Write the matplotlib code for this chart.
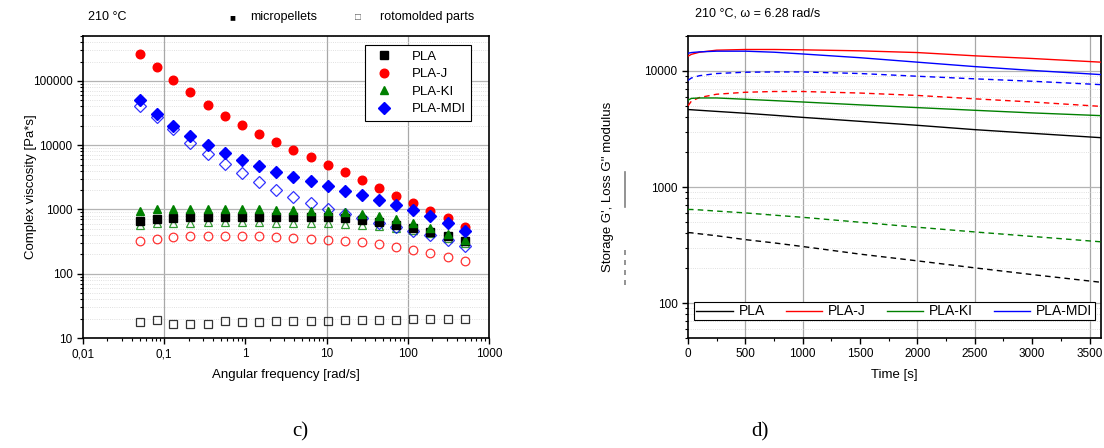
import numpy as np
import matplotlib
matplotlib.use("Agg")
import matplotlib.pyplot as plt
from matplotlib.lines import Line2D
from matplotlib.ticker import LogLocator, FixedLocator, NullFormatter, MultipleLocator, FuncFormatter

plt.rcParams['font.family'] = ['Liberation Sans', 'DejaVu Sans']

# ---------------- data: panel c ----------------
freq = [0.05, 0.081, 0.13, 0.21, 0.35, 0.56, 0.91, 1.48, 2.4, 3.9,
        6.4, 10.4, 16.9, 27.4, 44.5, 72.3, 117, 190, 309, 500]
pla_fill = [650, 700, 740, 750, 770, 770, 770, 770, 770, 770,
            760, 760, 730, 690, 640, 580, 520, 450, 390, 320]
plaj_fill = [261000, 165000, 103000, 67000, 42700, 28700, 20300, 14900, 11300, 8550,
             6570, 4990, 3790, 2840, 2180, 1640, 1270, 953, 733, 537]
plaki_fill = [950, 1000, 1010, 1020, 1020, 1020, 1010, 1000, 990, 980,
              960, 930, 900, 860, 790, 700, 620, 510, 410, 330]
plamdi_fill = [49900, 30500, 20000, 14000, 10000, 7590, 5900, 4760, 3830, 3160,
               2740, 2300, 1950, 1670, 1410, 1170, 965, 778, 606, 466]
pla_open = [17.5, 19, 16.6, 16.6, 16.6, 18.1, 17.7, 17.7, 18.1, 18.3,
            18.5, 18.5, 19, 19.2, 19, 19, 19.9, 19.7, 19.7, 19.9]
plaj_open = [322, 350, 371, 380, 390, 390, 385, 380, 371, 363,
             350, 333, 322, 307, 286, 260, 236, 212, 182, 157]
plaki_open = [580, 620, 620, 620, 630, 630, 630, 630, 620, 620,
              610, 610, 600, 570, 545, 515, 480, 425, 365, 300]
plamdi_open = [40600, 27000, 17600, 11000, 7330, 5050, 3650, 2670, 1980, 1570,
               1240, 1010, 857, 725, 621, 538, 466, 403, 330, 266]

# ---------------- data: panel d ----------------
time_s = [0, 30, 100, 250, 500, 750, 1000, 1500, 2000, 2500, 3000, 3600]
pla_Gp = [4650, 4630, 4580, 4480, 4320, 4150, 3980, 3680, 3400, 3120, 2900, 2660]
pla_Gpp = [405, 403, 395, 380, 352, 330, 307, 264, 231, 201, 176, 151]
plaj_Gp = [13400, 13900, 14500, 15100, 15300, 15300, 15200, 14900, 14400, 13500, 12800, 11900]
plaj_Gpp = [5000, 5500, 5900, 6300, 6550, 6650, 6650, 6450, 6150, 5750, 5400, 4950]
plaki_Gp = [5600, 5800, 5850, 5850, 5700, 5550, 5400, 5100, 4830, 4580, 4350, 4120]
plaki_Gpp = [640, 640, 635, 620, 598, 572, 548, 497, 450, 410, 375, 337]
plamdi_Gp = [14200, 14400, 14600, 14800, 14800, 14500, 14000, 13000, 11900, 10900, 10100, 9300]
plamdi_Gpp = [8300, 8700, 9100, 9500, 9750, 9800, 9800, 9500, 9000, 8550, 8150, 7620]

names = ['PLA', 'PLA-J', 'PLA-KI', 'PLA-MDI']
colors = ['black', '#ff0000', '#008000', '#0000ff']
markers = ['s', 'o', '^', 'D']

fig = plt.figure(figsize=(11.04, 4.48), dpi=100)
W, H = 1104, 448
plain = FuncFormatter(lambda v, p: '%d' % round(v))

def ax_rect(x0, y0, x1, y1):
    return [x0 / W, 1 - y1 / H, (x1 - x0) / W, (y1 - y0) / H]

# ---------------- panel c ----------------
ax1 = fig.add_axes(ax_rect(83, 36, 489, 338))
ax1.set_xscale('log')
ax1.set_yscale('log')
ax1.set_xlim(0.01, 1000)
ax1.set_ylim(10, 5e5)

fill_sets = [pla_fill, plaj_fill, plaki_fill, plamdi_fill]
open_sets = [pla_open, plaj_open, plaki_open, plamdi_open]
msz = [5.5, 6.2, 6.2, 6.0]
for i in range(4):
    ax1.plot(freq, open_sets[i], linestyle='none', marker=markers[i], ms=msz[i],
             mfc='none', mec=colors[i], mew=0.9, alpha=0.8, zorder=3)
handles = []
for i in range(4):
    h, = ax1.plot(freq, fill_sets[i], linestyle='none', marker=markers[i], ms=msz[i],
                  mfc=colors[i], mec=colors[i], zorder=4, label=names[i])
    handles.append(h)

ax1.yaxis.set_major_locator(FixedLocator([10, 100, 1000, 10000, 100000]))
ax1.yaxis.set_major_formatter(plain)
ax1.yaxis.set_minor_locator(LogLocator(base=10, subs=np.arange(2, 10), numticks=20))
ax1.yaxis.set_minor_formatter(NullFormatter())
ax1.xaxis.set_major_locator(FixedLocator([0.01, 0.1, 1, 10, 100, 1000]))
ax1.xaxis.set_minor_locator(LogLocator(base=10, subs=np.arange(2, 10), numticks=20))
ax1.xaxis.set_minor_formatter(NullFormatter())
ax1.set_xticklabels(['0,01', '0,1', '1', '10', '100', '1000'])
ax1.grid(True, axis='y', which='major', color='#b4b4b4', lw=0.9, zorder=0)
ax1.grid(True, axis='y', which='minor', color='#d6d6d6', lw=0.6, ls=':', zorder=0)
for xv in [0.1, 10, 100]:
    ax1.axvline(xv, color='#a8a8a8', lw=0.9, zorder=0)

ax1.tick_params(axis='both', which='major', direction='out', length=4, width=1, labelsize=8.5)
ax1.tick_params(axis='both', which='minor', direction='out', length=2.5, width=0.8)
for s in ax1.spines.values():
    s.set_linewidth(1.2)
ax1.set_xlabel('Angular frequency [rad/s]', fontsize=9.5, labelpad=6)
ax1.set_ylabel('Complex viscosity [Pa*s]', fontsize=9.5)
ax1.yaxis.set_label_coords((37 - 83) / 406, 0.5)

leg1 = ax1.legend(handles=handles, loc='upper right', fontsize=9.5, frameon=True,
                  fancybox=False, edgecolor='black', framealpha=1,
                  borderaxespad=0.6, handletextpad=1.1, labelspacing=0.4,
                  bbox_to_anchor=(0.975, 0.995))
leg1.get_frame().set_linewidth(0.8)

fig.text(88 / W, 1 - 17 / H, '210 \u00b0C', fontsize=9, va='center', ha='left')
fig.text(232 / W, 1 - 17 / H, '\u25a0', fontsize=7, va='center', ha='center')
fig.text(250 / W, 1 - 17 / H, 'micropellets', fontsize=9, va='center', ha='left')
fig.text(358 / W, 1 - 17 / H, '\u25a1', fontsize=7, va='center', ha='center', color='#555555')
fig.text(380 / W, 1 - 17 / H, 'rotomolded parts', fontsize=9, va='center', ha='left')

# ---------------- panel d ----------------
ax2 = fig.add_axes(ax_rect(688, 36, 1101, 338))
ax2.set_yscale('log')
ax2.set_xlim(0, 3600)
ax2.set_ylim(50, 20000)

Gp_sets = [pla_Gp, plaj_Gp, plaki_Gp, plamdi_Gp]
Gpp_sets = [pla_Gpp, plaj_Gpp, plaki_Gpp, plamdi_Gpp]
lhandles = []
for i in range(4):
    h, = ax2.plot(time_s, Gp_sets[i], color=colors[i], lw=1.0, label=names[i], zorder=3)
    lhandles.append(h)
    ax2.plot(time_s, Gpp_sets[i], color=colors[i], lw=1.0, ls=(0, (4, 3)), zorder=3)

ax2.xaxis.set_major_locator(MultipleLocator(500))
ax2.xaxis.set_minor_locator(MultipleLocator(250))
ax2.yaxis.set_major_locator(FixedLocator([100, 1000, 10000]))
ax2.yaxis.set_major_formatter(plain)
ax2.yaxis.set_minor_locator(LogLocator(base=10, subs=np.arange(2, 10), numticks=20))
ax2.yaxis.set_minor_formatter(NullFormatter())
ax2.grid(True, axis='y', which='major', color='#b4b4b4', lw=0.9, zorder=0)
ax2.grid(True, axis='y', which='minor', color='#d6d6d6', lw=0.6, ls=':', zorder=0)
for xv in [500, 1000, 2000, 2500, 3500]:
    ax2.axvline(xv, color='#a8a8a8', lw=0.9, zorder=0)
ax2.tick_params(axis='both', which='major', direction='out', length=4, width=1, labelsize=8.5)
ax2.tick_params(axis='both', which='minor', direction='out', length=2.5, width=0.8)
for s in ax2.spines.values():
    s.set_linewidth(1.2)
ax2.set_xlabel('Time [s]', fontsize=9.5, labelpad=6)
ax2.set_ylabel('Storage G\', Loss G\'\' modulus', fontsize=9.5)
ax2.yaxis.set_label_coords((614 - 688) / 413, 0.5)

leg2 = ax2.legend(handles=lhandles, loc='lower center', ncol=4, fontsize=10,
                  frameon=True, fancybox=False, edgecolor='black', framealpha=1,
                  handlelength=2.6, handletextpad=0.45, columnspacing=1.5,
                  borderpad=0.15, bbox_to_anchor=(0.5, 0.035))
leg2.get_frame().set_linewidth(0.8)

fig.text(695 / W, 1 - 13 / H, '210 \u00b0C, \u03c9 = 6.28 rad/s', fontsize=9, va='center', ha='left')

# line-style key next to y label
fig.add_artist(Line2D([625 / W, 625 / W], [1 - 172 / H, 1 - 207 / H], color='#808080', lw=1.2))
fig.add_artist(Line2D([625 / W, 625 / W], [1 - 250 / H, 1 - 288 / H], color='#808080', lw=1.2,
                      ls=(0, (3, 3))))

fig.text(300 / W, 1 - 432 / H, 'c)', fontsize=15, family='Liberation Serif', ha='center', va='center')
fig.text(760 / W, 1 - 432 / H, 'd)', fontsize=15, family='Liberation Serif', ha='center', va='center')

fig.savefig('out.png', dpi=100)
